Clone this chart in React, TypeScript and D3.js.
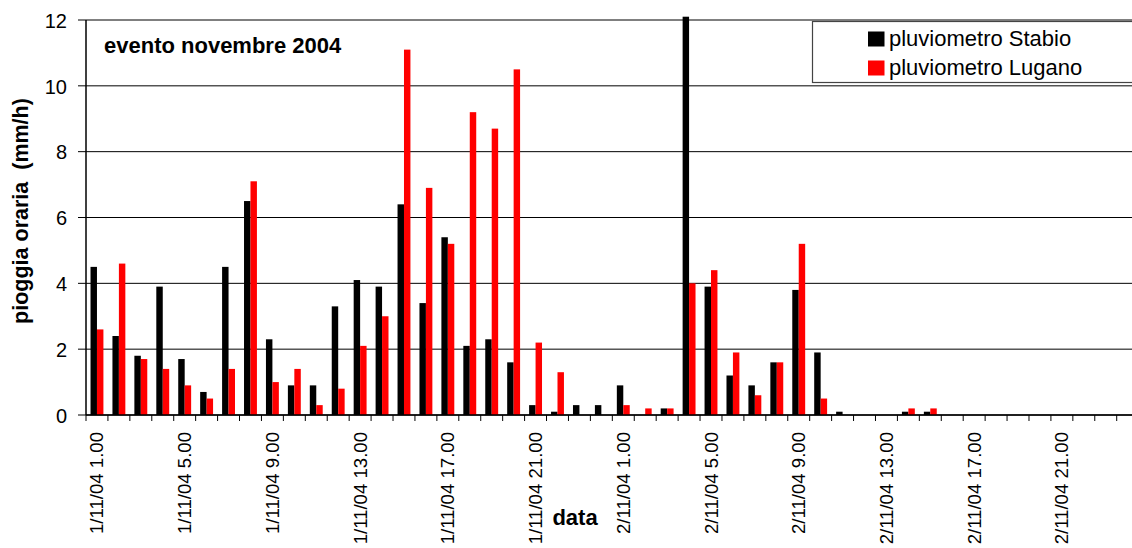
import React from 'react';
import * as d3 from 'd3';

// Hourly categories, 1 Nov 2004 01:00 through 3 Nov 2004 00:00
const categories = [
  '1/11/04 1.00', '1/11/04 2.00', '1/11/04 3.00', '1/11/04 4.00',
  '1/11/04 5.00', '1/11/04 6.00', '1/11/04 7.00', '1/11/04 8.00',
  '1/11/04 9.00', '1/11/04 10.00', '1/11/04 11.00', '1/11/04 12.00',
  '1/11/04 13.00', '1/11/04 14.00', '1/11/04 15.00', '1/11/04 16.00',
  '1/11/04 17.00', '1/11/04 18.00', '1/11/04 19.00', '1/11/04 20.00',
  '1/11/04 21.00', '1/11/04 22.00', '1/11/04 23.00', '2/11/04 0.00',
  '2/11/04 1.00', '2/11/04 2.00', '2/11/04 3.00', '2/11/04 4.00',
  '2/11/04 5.00', '2/11/04 6.00', '2/11/04 7.00', '2/11/04 8.00',
  '2/11/04 9.00', '2/11/04 10.00', '2/11/04 11.00', '2/11/04 12.00',
  '2/11/04 13.00', '2/11/04 14.00', '2/11/04 15.00', '2/11/04 16.00',
  '2/11/04 17.00', '2/11/04 18.00', '2/11/04 19.00', '2/11/04 20.00',
  '2/11/04 21.00', '2/11/04 22.00', '2/11/04 23.00', '3/11/04 0.00',
];

// Hourly rainfall (mm/h)
const stabio = [
  4.5, 2.4, 1.8, 3.9, 1.7, 0.7, 4.5, 6.5, 2.3, 0.9, 0.9, 3.3,
  4.1, 3.9, 6.4, 3.4, 5.4, 2.1, 2.3, 1.6, 0.3, 0.1, 0.3, 0.3,
  0.9, 0, 0.2, 12.1, 3.9, 1.2, 0.9, 1.6, 3.8, 1.9, 0.1, 0,
  0, 0.1, 0.1, 0, 0, 0, 0, 0, 0, 0, 0, 0,
];
const lugano = [
  2.6, 4.6, 1.7, 1.4, 0.9, 0.5, 1.4, 7.1, 1.0, 1.4, 0.3, 0.8,
  2.1, 3.0, 11.1, 6.9, 5.2, 9.2, 8.7, 10.5, 2.2, 1.3, 0, 0,
  0.3, 0.2, 0.2, 4.0, 4.4, 1.9, 0.6, 1.6, 5.2, 0.5, 0, 0,
  0, 0.2, 0.2, 0, 0, 0, 0, 0, 0, 0, 0, 0,
];

const seriesNames = ['pluviometro Stabio', 'pluviometro Lugano'];
const seriesColors = ['#000000', '#ff0000'];
const seriesValues = [stabio, lugano];
const yTicks = [0, 2, 4, 6, 8, 10, 12];

const FONT = "'Liberation Sans', Arial, Helvetica, sans-serif";

export default function App() {
  const W = 1132;
  const H = 548;
  const left = 86;
  const top = 20;
  const bottom = 415;
  const step = 21.93;
  const right = left + step * categories.length;

  const x = d3.scaleBand<string>().domain(categories).range([left, right]).padding(0);
  const inner = d3
    .scaleBand<string>()
    .domain(seriesNames)
    .range([0, x.bandwidth()])
    .paddingInner(0)
    .paddingOuter(0.7);
  const y = d3.scaleLinear().domain([0, 12]).range([bottom, top]);

  return (
    <div style={{ position: 'absolute', left: 0, top: 0 }}>
      <svg width={W} height={H} style={{ display: 'block', background: '#fff' }} fontFamily={FONT}>
        {/* gridlines */}
        {yTicks.map((t) => (
          <line key={'g' + t} x1={left} x2={W + 10} y1={y(t)} y2={y(t)} stroke="#000" strokeWidth={1} />
        ))}

        {/* bars */}
        {seriesValues.map((vals, s) =>
          vals.map((v, i) =>
            v > 0 ? (
              <rect
                key={s + '-' + i}
                x={(x(categories[i]) as number) + (inner(seriesNames[s]) as number)}
                y={y(v)}
                width={inner.bandwidth()}
                height={bottom - y(v)}
                fill={seriesColors[s]}
              />
            ) : null
          )
        )}

        {/* y axis */}
        <line x1={left} x2={left} y1={top} y2={bottom} stroke="#000" strokeWidth={1.5} />
        {yTicks.map((t) => (
          <g key={'yt' + t}>
            <line x1={left - 8} x2={left} y1={y(t)} y2={y(t)} stroke="#000" strokeWidth={1} />
            <text x={67} y={y(t) + 7.8} textAnchor="end" fontSize={20} fill="#000">
              {t}
            </text>
          </g>
        ))}

        {/* x axis */}
        <line x1={left} x2={W + 10} y1={bottom} y2={bottom} stroke="#000" strokeWidth={1.5} />
        {categories.map((c, i) => (
          <line
            key={'xt' + i}
            x1={x(c) as number}
            x2={x(c) as number}
            y1={bottom}
            y2={bottom + 6}
            stroke="#000"
            strokeWidth={1}
          />
        ))}
        {categories.map((c, i) =>
          i % 4 === 0 ? (
            <text
              key={'xl' + i}
              transform={`translate(${(x(c) as number) + x.bandwidth() / 2},432) rotate(-90)`}
              textAnchor="end"
              dominantBaseline="central"
              fontSize={18.6}
              fill="#000"
            >
              {c}
            </text>
          ) : null
        )}

        {/* axis titles */}
        <text
          transform="translate(28,211) rotate(-90)"
          textAnchor="middle"
          fontSize={21.5}
          fontWeight="bold"
          fill="#000"
          style={{ whiteSpace: 'pre' }}
        >
          {'pioggia oraria  (mm/h)'}
        </text>
        <text x={575} y={525} textAnchor="middle" fontSize={22} fontWeight="bold" fill="#000">
          data
        </text>

        {/* chart caption */}
        <text x={104} y={53} fontSize={22} fontWeight="bold" fill="#000">
          evento novembre 2004
        </text>

        {/* legend */}
        <rect x={812.5} y={21.5} width={400} height={61} fill="#fff" stroke="#444" strokeWidth={1.2} />
        {seriesNames.map((n, s) => (
          <g key={'lg' + s}>
            <rect x={868} y={31.5 + s * 29} width={16.5} height={15} fill={seriesColors[s]} />
            <text x={889} y={46 + s * 29} fontSize={22} fill="#000">
              {n}
            </text>
          </g>
        ))}
      </svg>
    </div>
  );
}
